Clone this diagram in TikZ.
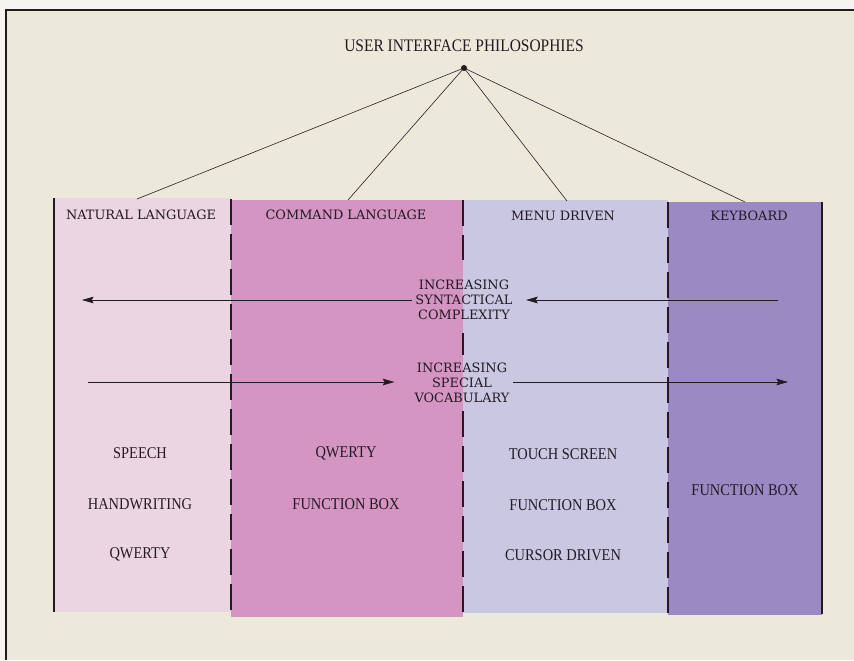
\documentclass[tikz,border=0pt]{standalone}
\usepackage{fontspec}
\setmainfont{Liberation Serif}
\newfontfamily\slabfont{DejaVu Serif}
\newfontfamily\condfont[FakeStretch=0.88]{Liberation Serif}
\usetikzlibrary{arrows.meta}
\definecolor{paper}{HTML}{F6F4EE}
\definecolor{board}{HTML}{ECE8DA}
\definecolor{ink}{HTML}{241A24}
\definecolor{natfill}{HTML}{ECD5E3}
\definecolor{cmdfill}{HTML}{D495C2}
\definecolor{menufill}{HTML}{C9C7E1}
\definecolor{keyfill}{HTML}{9B89C4}

\begin{document}
\begin{tikzpicture}[
    x=0.3mm, y=-0.3mm,
    ttl/.style={font=\condfont\fontsize{15}{17}\selectfont, text=ink},
    hdr/.style={font=\slabfont\fontsize{11}{13}\selectfont, text=ink},
    trend/.style={font=\slabfont\fontsize{11}{12.8}\selectfont, text=ink,
                  align=center, inner sep=1mm},
    item/.style={font=\condfont\fontsize{14}{16}\selectfont, text=ink},
    dot/.style={circle, fill=ink, inner sep=0pt, minimum size=1.8mm},
    spoke/.style={draw=ink, line width=0.5pt},
    edge/.style={draw=ink, line width=0.7mm},
    divider/.style={draw=ink, line width=0.7mm, dash pattern=on 7.8mm off 2.7mm},
    flow/.style={-{Stealth[length=3.5mm,width=2mm,inset=0.6mm]}, draw=ink, line width=0.5pt},
]

% ---- board -------------------------------------------------------------------
\useasboundingbox (0,0) rectangle (854,660);
\fill[paper] (0,0) rectangle (854,660);
\fill[board] (6,10) rectangle (854,660);
\draw[ink, line width=0.8mm] (6,660) -- (6,10) -- (854,10);

% ---- columns -----------------------------------------------------------------
\fill[natfill]  (54,198)  rectangle (231,612);
\fill[cmdfill]  (231,200) rectangle (463,617);
\fill[menufill] (463,200) rectangle (668,613);
\fill[keyfill]  (668,202) rectangle (822,615);

\draw[edge]    (54,198)  -- (54,612);
\draw[divider] (231,199) -- (231,617);
% middle divider stops short of the trend labels
\draw[divider] (463,200) -- (463,260);
\draw[divider] (463,333) -- (463,355);
\draw[divider] (463,411) -- (463,613);
\draw[divider] (668,202) -- (668,615);
\draw[edge]    (822,202) -- (822,614);

% ---- root and headers --------------------------------------------------------
\node[ttl] (title) at (464,46) {USER INTERFACE PHILOSOPHIES};
\node[dot] (root) at (464,68) {};

\coordinate (natTop)  at (137,199);
\coordinate (cmdTop)  at (348,200);
\coordinate (menuTop) at (567,201);
\coordinate (keyTop)  at (745,202);

\draw[spoke] (root.center) -- (natTop);
\draw[spoke] (root.center) -- (cmdTop);
\draw[spoke] (root.center) -- (menuTop);
\draw[spoke] (root.center) -- (keyTop);

\node[hdr] (natural)  at (141,215) {NATURAL LANGUAGE};
\node[hdr] (command)  at (346,215) {COMMAND LANGUAGE};
\node[hdr] (menu)     at (563,216) {MENU DRIVEN};
\node[hdr] (keyboard) at (749,216) {KEYBOARD};

% ---- trends ------------------------------------------------------------------
\node[trend] (syn) at (464,300) {INCREASING\\SYNTACTICAL\\COMPLEXITY};
\coordinate (synL) at (82,300);
\coordinate (synR) at (778,300);
\draw[flow] (syn.west) -- (synL);
\draw[flow] (synR) -- ([xshift=3mm]syn.east);

\node[trend] (voc) at (462,383) {INCREASING\\SPECIAL\\VOCABULARY};
\coordinate (vocL) at (88,382);
\coordinate (vocR) at (788,382);
\draw[flow] (vocL) -- ([xshift=-5mm]voc.west |- vocL);
\draw[flow] (voc.east |- vocR) -- (vocR);

% ---- devices -----------------------------------------------------------------
\node[item] (speech)  at (140,453) {SPEECH};
\node[item] (hand)    at (140,504) {HANDWRITING};
\node[item] (qwertyA) at (140,554) {QWERTY};

\node[item] (qwertyB) at (346,453) {QWERTY};
\node[item] (fboxB)   at (346,504) {FUNCTION BOX};

\node[item] (touch)   at (563,454) {TOUCH SCREEN};
\node[item] (fboxC)   at (563,505) {FUNCTION BOX};
\node[item] (cursor)  at (563,555) {CURSOR DRIVEN};

\node[item] (fboxD)   at (745,490) {FUNCTION BOX};

\end{tikzpicture}
\end{document}
